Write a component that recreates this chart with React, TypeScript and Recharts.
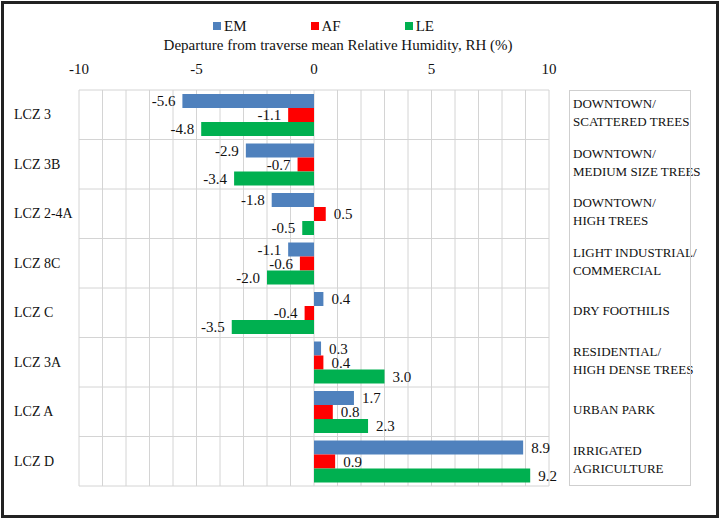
import React from "react";
import {
  BarChart,
  Bar,
  XAxis,
  YAxis,
  CartesianGrid,
  Legend,
  LabelList,
} from "recharts";

const zones = ["LCZ 3", "LCZ 3B", "LCZ 2-4A", "LCZ 8C", "LCZ C", "LCZ 3A", "LCZ A", "LCZ D"];
const emValues = [-5.6, -2.9, -1.8, -1.1, 0.4, 0.3, 1.7, 8.9];
const afValues = [-1.1, -0.7, 0.5, -0.6, -0.4, 0.4, 0.8, 0.9];
const leValues = [-4.8, -3.4, -0.5, -2.0, -3.5, 3.0, 2.3, 9.2];
const descriptions = [
  ["DOWNTOWN/", "SCATTERED TREES"],
  ["DOWNTOWN/", "MEDIUM SIZE TREES"],
  ["DOWNTOWN/", "HIGH TREES"],
  ["LIGHT INDUSTRIAL/", "COMMERCIAL"],
  ["DRY FOOTHILIS"],
  ["RESIDENTIAL/", "HIGH DENSE TREES"],
  ["URBAN PARK"],
  ["IRRIGATED", "AGRICULTURE"],
];
const xTicks = [-10, -5, 0, 5, 10];

const series = [
  { key: "EM", color: "#4f81bd" },
  { key: "AF", color: "#ff0000" },
  { key: "LE", color: "#00b050" },
];

const data = zones.map((zone, i) => ({
  zone,
  EM: emValues[i],
  AF: afValues[i],
  LE: leValues[i],
}));

const FONT = "'Liberation Serif', 'Times New Roman', serif";

function BarValue(props: any) {
  const { x, y, width, height, value } = props;
  const a = Number(x);
  const b = Number(x) + Number(width);
  const neg = Number(value) < 0;
  const end = neg ? Math.min(a, b) : Math.max(a, b);
  return (
    <text
      x={neg ? end - 7 : end + 8}
      y={Number(y) + Number(height) / 2}
      dominantBaseline="central"
      textAnchor={neg ? "end" : "start"}
      fontFamily={FONT}
      fontSize={15}
      fill="#111"
    >
      {Number(value).toFixed(1)}
    </text>
  );
}

function ZoneTick(props: any) {
  const { y, payload } = props;
  return (
    <text x={14} y={y} dominantBaseline="central" fontFamily={FONT} fontSize={14} fill="#111">
      {payload.value}
    </text>
  );
}

function DescTick(props: any) {
  const { y, payload } = props;
  const lines = descriptions[payload.index] || [];
  const start = y - 2 - ((lines.length - 1) * 18) / 2;
  return (
    <g>
      {lines.map((line, i) => (
        <text
          key={i}
          x={573}
          y={start + i * 18}
          dominantBaseline="central"
          fontFamily={FONT}
          fontSize={13}
          fill="#111"
        >
          {line}
        </text>
      ))}
    </g>
  );
}

function LegendContent() {
  return (
    <div style={{ height: 24, width: 720, position: "relative", fontFamily: FONT, fontSize: 15 }}>
      <div style={{ position: "absolute", left: 213, top: 0, display: "flex", alignItems: "center", height: 24 }}>
        {series.map((s, i) => (
          <div key={s.key} style={{ display: "flex", alignItems: "center", marginRight: i < series.length - 1 ? 64 : 0 }}>
            <span style={{ width: 8, height: 8, background: s.color, display: "inline-block", marginRight: 3 }} />
            <span style={{ color: "#111" }}>{s.key}</span>
          </div>
        ))}
      </div>
    </div>
  );
}

function TitleLabel(props: any) {
  const { viewBox } = props;
  return (
    <text
      x={viewBox.x + viewBox.width / 2 + 24}
      y={viewBox.y + 12}
      textAnchor="middle"
      fontFamily={FONT}
      fontSize={15}
      fill="#111"
    >
      Departure from traverse mean Relative Humidity, RH (%)
    </text>
  );
}

export default function App() {
  return (
    <div style={{ position: "relative", width: 720, height: 519, background: "#fff" }}>
      <style>{"body{margin:0}"}</style>
      <BarChart
        width={720}
        height={519}
        data={data}
        layout="vertical"
        margin={{ top: 14, right: 0, bottom: 33, left: 0 }}
        barSize={14}
        barGap={0}
      >
        <Legend verticalAlign="top" content={<LegendContent />} wrapperStyle={{ left: 0, width: 720 }} />
        <CartesianGrid
          yAxisId="left"
          stroke="#d4d4d4"
          verticalCoordinatesGenerator={({ offset }: any) =>
            Array.from({ length: 21 }, (_, i) => offset.left + (i * offset.width) / 20)
          }
          horizontalCoordinatesGenerator={({ offset }: any) =>
            Array.from({ length: zones.length + 1 }, (_, i) => offset.top + (i * offset.height) / zones.length)
          }
        />
        <XAxis
          type="number"
          orientation="top"
          domain={[-10, 10]}
          ticks={xTicks}
          height={52}
          axisLine={false}
          tickLine={false}
          tickMargin={10}
          tick={{ fontFamily: FONT, fontSize: 15, fill: "#111" }}
          label={<TitleLabel />}
        />
        <YAxis yAxisId="left" type="category" dataKey="zone" width={79} axisLine={false} tickLine={false} tick={<ZoneTick />} />
        <YAxis
          yAxisId="right"
          orientation="right"
          type="category"
          dataKey="zone"
          width={171}
          axisLine={false}
          tickLine={false}
          tick={<DescTick />}
        />
        {series.map((s) => (
          <Bar key={s.key} yAxisId="left" dataKey={s.key} fill={s.color} isAnimationActive={false}>
            <LabelList dataKey={s.key} content={<BarValue />} />
          </Bar>
        ))}
      </BarChart>
      <div
        style={{
          position: "absolute",
          left: 569,
          top: 90,
          width: 122,
          height: 396,
          border: "1px solid #cfcfcf",
          boxSizing: "border-box",
          pointerEvents: "none",
        }}
      />
      <div
        style={{
          position: "absolute",
          left: 1,
          top: 1,
          width: 718,
          height: 517,
          border: "3px solid #222",
          boxSizing: "border-box",
          pointerEvents: "none",
        }}
      />
    </div>
  );
}
